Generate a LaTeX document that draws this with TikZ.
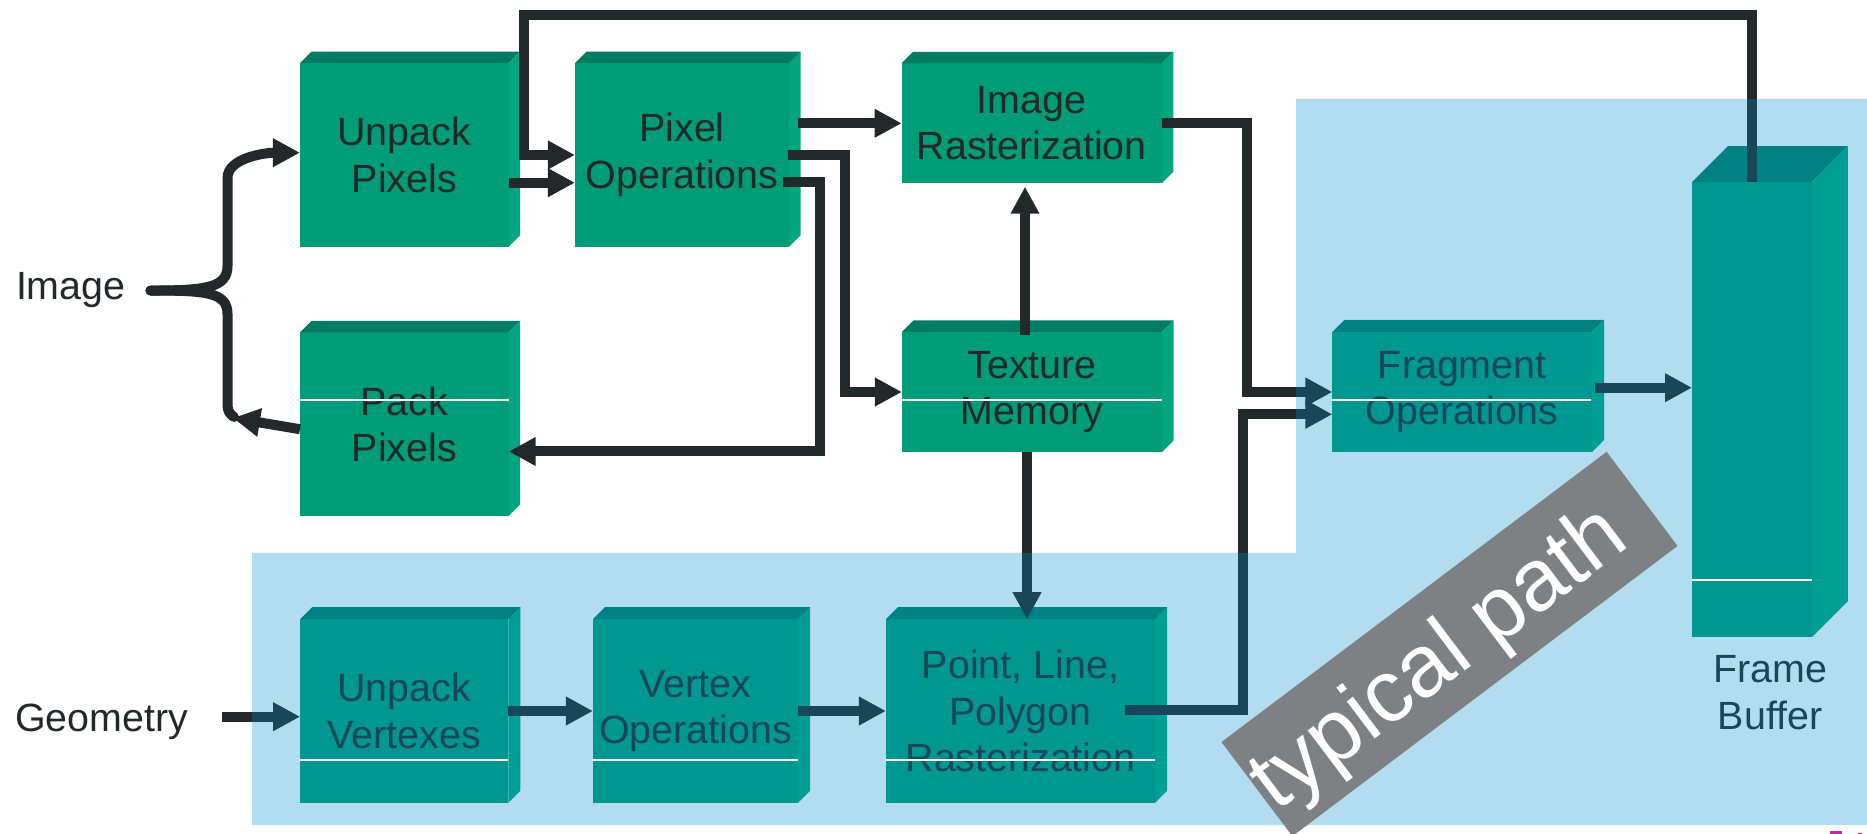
\documentclass[tikz,border=0pt]{standalone}
\usepackage{fontspec}
\setmainfont{Liberation Sans}
\usetikzlibrary{arrows.meta,calc}

\definecolor{ink}{RGB}{35,40,42}
\definecolor{boxfront}{RGB}{0,155,119}
\definecolor{boxtop}{RGB}{0,124,98}
\definecolor{boxside}{RGB}{0,166,126}
\definecolor{veil}{RGB}{0,143,204}
\definecolor{bannergray}{RGB}{126,129,132}
\definecolor{logopink}{RGB}{190,40,160}

\newcommand\boxfont{\fontsize{11.2}{13.2}\selectfont}

% top and right faces of a block, depth #2 (in picture units)
\newcommand\blockfaces[2]{%
  \fill[boxtop] (#1.north west) -- ++(#2,-#2) -- ([shift={(#2,-#2)}]#1.north east) -- (#1.north east) -- cycle;
  \fill[boxside] (#1.north east) -- ++(#2,-#2) -- ([shift={(#2,-#2)}]#1.south east) -- (#1.south east) -- cycle;
}

\begin{document}
\begin{tikzpicture}[x=0.01cm,y=-0.01cm,
  block/.style 2 args={rectangle, fill=boxfront, inner sep=0pt, outer sep=0pt,
    minimum width=#1, minimum height=#2, align=center, text=ink, font=\boxfont},
  label/.style={inner sep=0pt, outer sep=0pt, text=ink, font=\boxfont, align=center},
  wire/.style={draw=ink, line width=0.1cm},
  flow/.style={wire, -{Triangle[length=0.27cm,width=0.27cm]}},
  divider/.style={draw=white, line width=0.015cm},
  veilfill/.style={fill=veil, fill opacity=0.3},
  banner/.style={fill=bannergray, inner sep=0pt,
    minimum width=4.82cm, minimum height=1.178cm},
  bannertext/.style={text=white, inner sep=0pt, font=\fontsize{25}{25}\selectfont}]

\useasboundingbox (0,0) rectangle (1867,834);

% blocks
\node[block={2.086cm}{1.834cm}] (upix) at (404.3,155) {Unpack\\Pixels};
\node[block={2.14cm}{1.834cm}] (pixop) at (682,155) {Pixel\\Operations};
\node[block={2.60cm}{1.20cm}] (imras) at (1031.7,123.3) {Image\\Rasterization};
\node[block={2.60cm}{1.20cm}] (texmem) at (1032,392) {Texture\\Memory};
\node[block={2.086cm}{1.834cm}] (packpix) at (404.3,424.2) {Pack\\Pixels};
\node[block={2.595cm}{1.20cm}] (frag) at (1462.2,392) {Fragment\\Operations};
\node[block={1.197cm}{4.55cm}] (fbuf) at (1751.9,409.8) {};
\node[block={2.08cm}{1.834cm}] (uvert) at (404.2,711) {Unpack\\Vertexes};
\node[block={2.05cm}{1.834cm}] (vop) at (695.5,711) {Vertex\\Operations};
\node[block={2.69cm}{1.834cm}] (plp) at (1020.5,711) {Point, Line,\\Polygon\\Rasterization};

\blockfaces{upix}{11.5}
\blockfaces{pixop}{11.5}
\blockfaces{imras}{11.5}
\blockfaces{texmem}{11.5}
\blockfaces{packpix}{11.5}
\blockfaces{frag}{12}
\blockfaces{fbuf}{36}
\blockfaces{uvert}{12}
\blockfaces{vop}{12}
\blockfaces{plp}{12}

% side labels
\node[label, anchor=base west] (image) at (16,300) {Image};
\node[label, anchor=base west] (geom) at (15,731) {Geometry};
\node[label] (fblabel) at (1770,692.5) {Frame\\Buffer};

% image brace
\coordinate (bs) at ($(image.east)+(25,0)$);
\draw[flow, line cap=round] (bs) .. controls +(55,0) and +(0,22) .. (227.5,266)
  -- (227.5,178) .. controls +(0,-20) and +(-35,0) .. ($(upix.west)+(0,-2.3)$);
\draw[wire, line cap=round] (bs) .. controls +(55,0) and +(0,-22) .. (227.5,314)
  -- (227.5,404) .. controls +(0,8) and +(-4,-3) .. (234,417);
\draw[flow] ($(packpix.west)+(0,5)$) -- (233,418);

% pixel path
\draw[flow] ($(upix.east)+(0,27.7)$) -- ($(pixop.west)+(0,27.7)$);
\coordinate (loop) at (524,15);
\draw[flow] (fbuf.north) |- (loop) |- (pixop.west);
\draw[flow] ($(pixop.east |- imras.west)+(9,0)$) -- (imras.west);
\draw[flow] ($(pixop.east)+(-1,0)$) -- (845,155) |- (texmem.west);
\draw[flow] ($(pixop.east)+(-6,27.5)$) -- (820,182.5) |- ($(packpix.east)+(0,27.3)$);

% texture memory
\coordinate (tu) at ($(texmem.north)+(-7,3)$);
\draw[flow] (tu) -- ($(tu |- imras.south)+(0,3.4)$);
\coordinate (td) at ($(texmem.south)+(-5,0)$);
\draw[flow] (td) -- (td |- plp.north);

% towards fragment operations
\draw[flow] (imras.east) -- (1247,123.3) |- (frag.west);
\draw[flow] ($(plp.east)+(-30,-1)$) -- (1243.3,710) |- ($(frag.west)+(0,22.3)$);
\coordinate (fa) at ($(frag.east)+(3,-4.3)$);
\draw[flow] (fa) -- (fa -| fbuf.west);

% geometry path
\coordinate (ga) at ($(uvert.west)+(-78.5,5.7)$);
\draw[flow] (ga) -- (ga -| uvert.west);
\draw[flow] (uvert.east) -- (vop.west);
\draw[flow] (vop.east) -- (plp.west);

% highlighted region
\fill[veilfill] (252,553) -- (1296,553) -- (1296,99) -- (1867,99) -- (1867,825) -- (252,825) -- cycle;

% divider lines
\draw[divider] ($(packpix.west)+(0,-24.2)$) -- ($(packpix.east)+(0,-24.2)$);
\draw[divider] ($(texmem.west)+(0,8)$) -- ($(texmem.east)+(0,8)$);
\draw[divider] ($(frag.west)+(0,8)$) -- ($(frag.east)+(-1,8)$);
\draw[divider] ($(fbuf.west)+(0,170.2)$) -- ($(fbuf.east)+(0,170.2)$);
\draw[divider] ($(uvert.west)+(0,49)$) -- ($(uvert.east)+(0,49)$);
\draw[divider] ($(vop.west)+(0,49)$) -- ($(vop.east)+(0,49)$);
\draw[divider] ($(plp.west)+(0,49)$) -- ($(plp.east)+(0,49)$);

% banner
\node[banner, rotate=37] (typical) at (1449.5,644) {};
\node[bannertext, rotate=37] (typicaltext) at ($(typical.center)+(-9,17)$) {typical path};

% corner mark
\fill[logopink] (1830,831) rectangle (1842,834);
\fill[logopink] (1858,832.5) rectangle (1862,834);

\end{tikzpicture}
\end{document}
